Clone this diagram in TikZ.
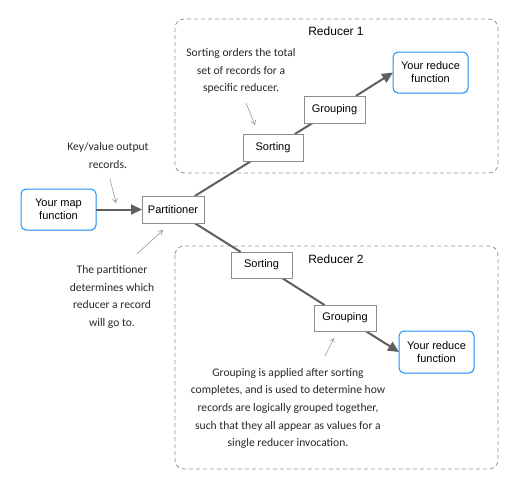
\documentclass[tikz,border=0pt]{standalone}
\usepackage{fontspec}
\setmainfont{Liberation Sans}
\newfontfamily\notefont{Carlito}
\usetikzlibrary{arrows.meta,shadows,calc}
\definecolor{boxblue}{RGB}{30,144,255}
\definecolor{flowgray}{RGB}{95,95,95}
\definecolor{framegray}{RGB}{150,150,150}
\definecolor{stagegray}{RGB}{140,140,140}
\definecolor{notegray}{RGB}{40,40,40}
\definecolor{notearrowgray}{RGB}{150,150,150}
\pgfdeclarelayer{bg}
\pgfsetlayers{bg,main}
\begin{document}
\begin{tikzpicture}[x=1pt,y=-1pt,
  every node/.style={inner sep=0pt,outer sep=0pt},
  funcbox/.style={draw=boxblue,line width=1pt,rounded corners=5pt,fill=white,
    minimum width=75pt,minimum height=41pt,align=center,
    font=\fontsize{11}{13}\selectfont,
    drop shadow={shadow xshift=0.6pt,shadow yshift=-1.2pt,opacity=0.18}},
  stagebox/.style={draw=stagegray,line width=0.8pt,fill=white,
    minimum width=61pt,minimum height=27pt,font=\fontsize{11}{13}\selectfont},
  flow/.style={draw=flowgray,line width=2pt},
  flowarrow/.style={flow,-{Triangle[length=11pt,width=10pt]}},
  note/.style={font=\notefont\fontsize{11.6}{17.7}\selectfont,text=notegray,align=center},
  notearrow/.style={draw=notearrowgray,line width=0.6pt,-{Straight Barb[length=4pt,width=5pt]}},
  reducerframe/.style={draw=framegray,dashed,dash pattern=on 4pt off 3pt,
    rounded corners=9pt,line width=0.8pt},
  framelabel/.style={font=\fontsize{12}{14}\selectfont}]

\useasboundingbox (0,0) rectangle (519,491);

% nodes
\node[funcbox] (map) at (58.5,209.5) {Your map\\function};
\node[stagebox,minimum width=62pt] (part) at (173,209.5) {Partitioner};
\node[stagebox,minimum width=60pt] (sort1) at (273,147.5) {Sorting};
\node[stagebox] (group1) at (334.5,109.5) {Grouping};
\node[funcbox] (red1) at (430.5,72.5) {Your reduce\\function};
\node[stagebox,minimum height=26pt] (sort2) at (261.5,265) {Sorting};
\node[stagebox,minimum width=62pt,minimum height=26pt] (group2) at (345,318) {Grouping};
\node[funcbox,minimum height=42pt] (red2) at (436.5,352) {Your reduce\\function};

\node[framelabel] (lab1) at (336,31) {Reducer 1};
\node[framelabel] (lab2) at (336,259) {Reducer 2};

% frames and flows on background
\begin{pgfonlayer}{bg}
\draw[reducerframe] (175,19) rectangle (498,173);
\draw[reducerframe] (175,246) rectangle (498,469);
\draw[flow] (part) -- (sort1);
\draw[flow] (sort1) -- (group1);
\draw[flowarrow] (group1) -- (red1.west);
\draw[flow] (part) -- (sort2);
\draw[flow] (sort2) -- (group2);
\draw[flowarrow] (group2) -- (red2.west);
\end{pgfonlayer}
\draw[flowarrow] (map) -- (part);

% notes
\node[note] (n1) at (108,155.5) {Key/value output\\records.};
\node[note] (n2) at (112,297) {The partitioner\\determines which\\reducer a record\\will go to.};
\node[note] (n3) at (241,71) {Sorting orders the total\\set of records for a\\specific reducer.};
\node[note] (n4) at (288,408.5) {Grouping is applied after sorting\\completes, and is used to determine how\\records are logically grouped together,\\such that they all appear as values for a\\single reducer invocation.};

\coordinate (a1s) at (110,179);
\coordinate (a1e) at (116,203);
\coordinate (a2s) at (137,254);
\coordinate (a2e) at (163,230);
\coordinate (a3s) at (246,103);
\coordinate (a3e) at (255,125);
\coordinate (a4s) at (325,356);
\coordinate (a4e) at (334,338);
\draw[notearrow] (a1s) -- (a1e);
\draw[notearrow] (a2s) -- (a2e);
\draw[notearrow] (a3s) -- (a3e);
\draw[notearrow] (a4s) -- (a4e);
\end{tikzpicture}
\end{document}
